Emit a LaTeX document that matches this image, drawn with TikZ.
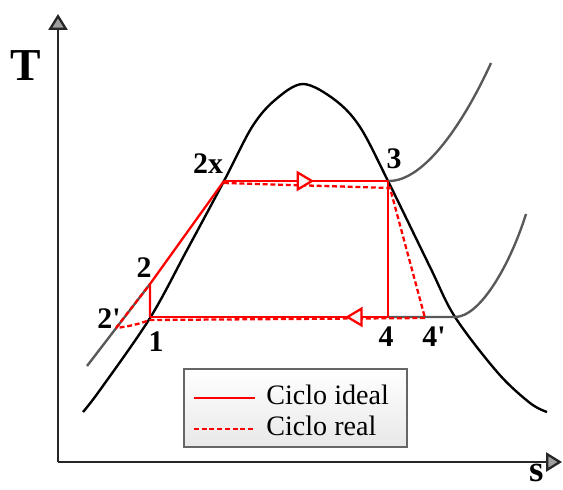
\documentclass[tikz,border=0pt]{standalone}
\usepackage{fontspec}
\setmainfont{Liberation Serif}
\usetikzlibrary{arrows.meta,decorations.markings}

\tikzset{
  dome/.style={line width=1.35pt, black},
  isobar/.style={line width=1.35pt, black!65},
  ideal/.style={line width=1.3pt, red},
  real/.style={line width=1.3pt, red, dash pattern=on 2.8pt off 1.6pt},
  axis/.style={line width=1.3pt, black!85, -{Triangle[length=9pt,width=10.8pt,fill=gray!75]}},
  ptlabel/.style={font=\fontsize{17}{20}\selectfont\bfseries, inner sep=0pt},
  axlabel/.style={font=\fontsize{26}{30}\selectfont\bfseries, inner sep=0pt},
  legtext/.style={font=\fontsize{16}{19}\selectfont, anchor=base west, inner sep=0pt},
  flow/.style={postaction={decorate}, decoration={markings,
      mark=at position #1 with {\arrow{Triangle[length=10pt,width=11.5pt,fill=gray!8]}}}}
}

\begin{document}
\begin{tikzpicture}[x=0.02cm, y=-0.02cm]
  \useasboundingbox (0,0) rectangle (563,489);

  % axes
  \coordinate (o) at (58,462);
  \coordinate (ty) at (58,14);
  \coordinate (tx) at (562,462);
  \draw[axis] (o) -- (ty);
  \draw[axis] (o) -- (tx);
  \node[axlabel] (lT) at (26,66) {T};
  \node[axlabel, font=\fontsize{21}{24}\selectfont\bfseries] (ls) at (537,473) {s};

  % cycle points
  \coordinate (p1) at (150,317);
  \coordinate (p1r) at (150,320);
  \coordinate (p2) at (150,284);
  \coordinate (p2r) at (116,328);
  \coordinate (p2x) at (224,181);
  \coordinate (p2xr) at (224,183);
  \coordinate (p3) at (388,181);
  \coordinate (p3r) at (390,188);
  \coordinate (p4) at (388,317);
  \coordinate (p4r) at (425,318);
  \coordinate (sat) at (455,317);
  \coordinate (liq) at (87,366);

  % saturation dome
  \draw[dome] plot[smooth, tension=0.55] coordinates {(83,412) (100,390) (150,318) (187,250)
    (224,181) (252,127) (275,100) (303,84) (335,100) (360,127) (388,181) (430,267)
    (455,317) (498,373) (530,403) (547,412)};

  % isobars
  \draw[isobar] (liq) -- (p2);
  \draw[isobar] (p3) .. controls (425,182) and (465,120) .. (491,63);
  \draw[isobar] (p4) -- (sat) .. controls (480,317) and (510,265) .. (526,214);

  % real cycle
  \draw[real] (p2r) -- (p2);
  \draw[real] (p2xr) -- (p3r) -- (p4r);
  \draw[real] (p4r) -- (p1r) to[bend left=6] (p2r);

  % ideal cycle
  \draw[ideal] (p1) -- (p2) -- (p2x);
  \draw[ideal, flow=0.55] (p2x) -- (p3);
  \draw[ideal] (p3) -- (p4);
  \draw[ideal, flow=0.18] (p4) -- (p1);

  \node[ptlabel] (l1) at (156,342) {1};
  \node[ptlabel] (l2) at (144,268) {2};
  \node[ptlabel] (l2r) at (109,319) {2\textquotesingle};
  \node[ptlabel] (l2x) at (208,164) {2x};
  \node[ptlabel] (l3) at (394,159) {3};
  \node[ptlabel] (l4) at (386,337) {4};
  \node[ptlabel] (l4r) at (434,337) {4\textquotesingle};

  % legend
  \shade[top color=white, bottom color=gray!18] (184,369) rectangle (407,447);
  \draw[black!60, line width=0.6pt] (184,369) rectangle (407,447);
  \coordinate (a1) at (194,398);
  \coordinate (b1) at (255,398);
  \coordinate (a2) at (194,429);
  \coordinate (b2) at (255,429);
  \draw[ideal] (a1) -- (b1);
  \draw[real] (a2) -- (b2);
  \node[legtext] (lid) at (266,404) {Ciclo ideal};
  \node[legtext] (lre) at (266,435) {Ciclo real};
\end{tikzpicture}
\end{document}
